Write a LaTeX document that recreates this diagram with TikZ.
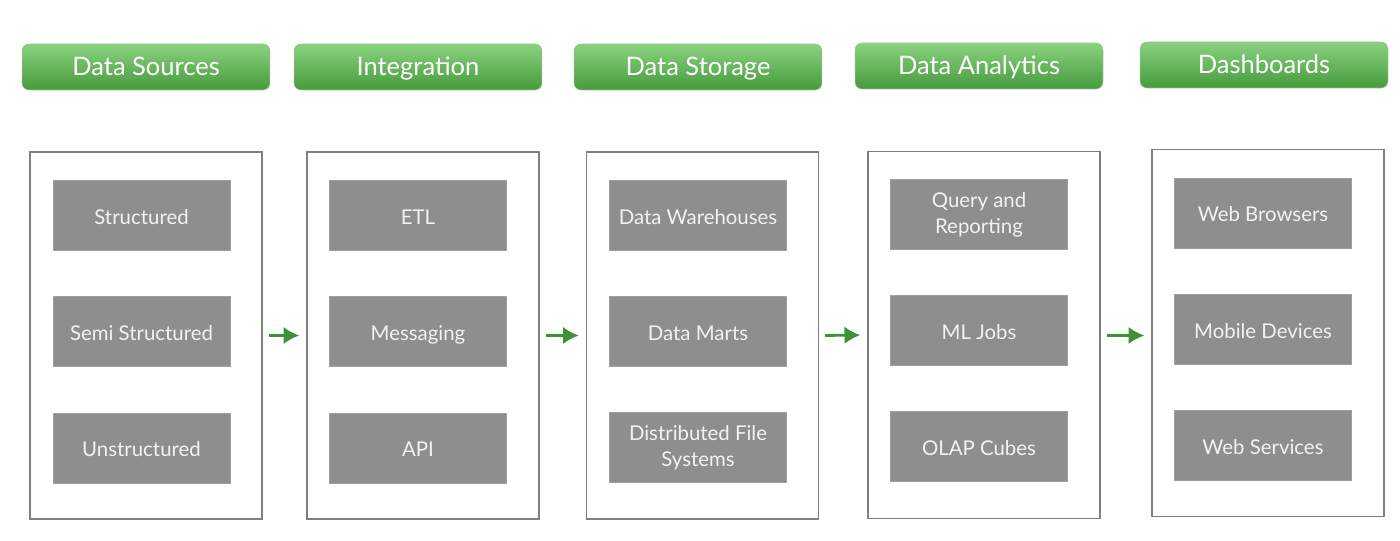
\documentclass[tikz,border=0pt]{standalone}
\usepackage{fontspec}
\setmainfont{Lato}
\usetikzlibrary{arrows.meta}
\definecolor{hdtop}{HTML}{8AD27F}
\definecolor{hdbot}{HTML}{479A3E}
\definecolor{boxgray}{HTML}{8E8E8E}
\definecolor{linegray}{HTML}{7F7F7F}
\definecolor{arrgreen}{HTML}{3E9236}
\tikzset{
  hdr/.style={rounded corners=4pt,top color=hdtop,bottom color=hdbot,
    draw=hdbot!60,line width=.3pt,minimum width=4.96cm,minimum height=.92cm,
    text=white,font=\fontsize{14.5}{16}\selectfont,text height=.95em,text depth=0pt},
  col/.style={draw=linegray,line width=.8pt,minimum width=4.64cm,minimum height=7.34cm},
  item/.style={fill=boxgray,draw=boxgray!85!white,line width=.5pt,minimum width=3.54cm,
    minimum height=1.4cm,text=white!95!black,align=center,
    font=\fontsize{11.6}{14.8}\selectfont},
  one/.style={item,text height=1.01em,text depth=0pt},
  arr/.style={-{Latex[length=9pt,width=10pt]},arrgreen,line width=1.6pt,
    shorten <=.12cm,shorten >=.14cm}
}
\begin{document}
\begin{tikzpicture}[x=.02cm,y=-.02cm]
  \useasboundingbox (0,0) rectangle (1400,541);
  % headers
  \node[hdr] (hsrc) at (146,67) {Data Sources};
  \node[hdr] (hint) at (418,67) {Integration};
  \node[hdr] (hsto) at (698,67) {Data Storage};
  \node[hdr] (hanl) at (979,66) {Data Analytics};
  \node[hdr] (hdsh) at (1264,65) {Dashboards};
  % columns
  \node[col] (src) at (146,335.5) {};
  \node[col] (int) at (423,335.5) {};
  \node[col] (sto) at (702.5,335.5) {};
  \node[col] (anl) at (984,335) {};
  \node[col] (dsh) at (1268,333) {};
  % data sources
  \node[one] (s1) at (141.5,215.5) {Structured};
  \node[one] (s2) at (141.5,331.5) {Semi Structured};
  \node[one] (s3) at (141.5,448) {Unstructured};
  % integration
  \node[one] (i1) at (418,215.5) {ETL};
  \node[one] (i2) at (418,331.5) {Messaging};
  \node[one] (i3) at (418,448) {API};
  % storage
  \node[one] (t1) at (698,215.5) {Data Warehouses};
  \node[one] (t2) at (698,331.5) {Data Marts};
  \node[item] (t3) at (698,447.5) {Distributed File\\Systems};
  % analytics
  \node[item] (a1) at (979,214.5) {Query and\\Reporting};
  \node[one] (a2) at (979,330.5) {ML Jobs};
  \node[one] (a3) at (979,446.5) {OLAP Cubes};
  % dashboards
  \node[one] (d1) at (1263,213) {Web Browsers};
  \node[one] (d2) at (1263,329.5) {Mobile Devices};
  \node[one] (d3) at (1263,445.5) {Web Services};
  % flow
  \draw[arr] (src.east) -- (int.west);
  \draw[arr] (int.east) -- (sto.west);
  \draw[arr] (sto.east) -- (anl.west);
  \draw[arr] (anl.east |- sto.east) -- (dsh.west |- sto.east);
\end{tikzpicture}
\end{document}
